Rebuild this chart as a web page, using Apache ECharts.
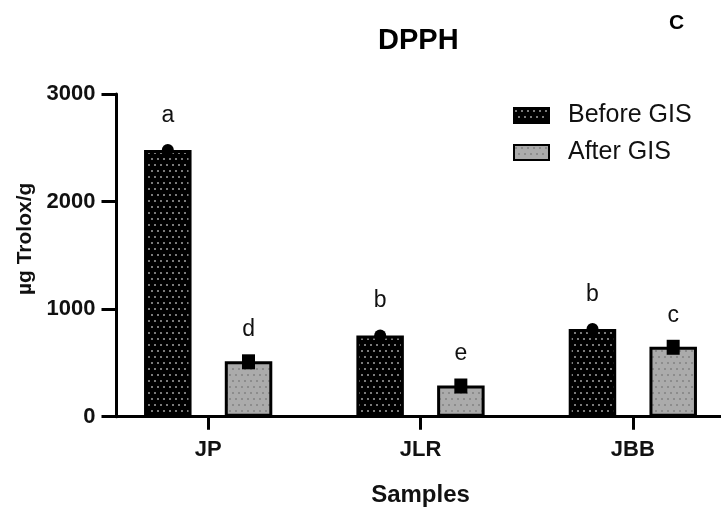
<!DOCTYPE html>
<html lang="en">

<head>
    <meta charset="UTF-8">
    <title>DPPH</title>
    <script src="https://cdn.jsdelivr.net/npm/echarts@6/dist/echarts.min.js"></script>
    <style>
        html, body {
            margin: 0;
            padding: 0;
            background: #fff;
        }
        #main {
            width: 721px;
            height: 518px;
        }
    </style>
</head>

<body>
    <div id="main"></div>
    <script>
        // data
        var categories = ['JP', 'JLR', 'JBB'];
        var beforeGIS = [2480, 755, 815];
        var afterGIS = [515, 290, 650];
        var beforeLetters = ['a', 'b', 'b'];
        var afterLetters = ['d', 'e', 'c'];
        var yMin = 0, yMax = 3000, yStep = 1000;

        var FONT = 'Liberation Sans, Arial, sans-serif';

        // dotted fill like the GraphPad bars
        function dots(bg, dot) {
            var c = document.createElement('canvas');
            c.width = 6;
            c.height = 12;
            var ctx = c.getContext('2d');
            ctx.fillStyle = bg;
            ctx.fillRect(0, 0, 6, 12);
            ctx.fillStyle = dot;
            ctx.fillRect(1, 2, 2, 2);
            ctx.fillRect(4, 8, 2, 2);
            return { image: c, repeat: 'repeat' };
        }

        var darkFill = dots('#000', '#7a7a7a');
        var greyFill = dots('#ababab', '#8c8c8c');

        // marker on top of each bar (circle / square), shifted to the bar centre
        function markerSeries(name, values, shape, shift) {
            return {
                type: 'custom',
                name: name + ' mk',
                xAxisIndex: 1,
                yAxisIndex: 1,
                z: 5,
                silent: true,
                data: values.map(function (v, i) { return [i, v]; }),
                renderItem: function (params, api) {
                    var p = api.coord([api.value(0), api.value(1)]);
                    var band = api.size([1, 0])[0];
                    var x = p[0] + shift * band;
                    if (shape === 'circle') {
                        return {
                            type: 'circle',
                            shape: { cx: x, cy: p[1], r: 6 },
                            style: { fill: '#000' }
                        };
                    }
                    return {
                        type: 'rect',
                        shape: { x: x - 6.5, y: p[1] - 7, width: 13, height: 15 },
                        style: { fill: '#000' }
                    };
                }
            };
        }

        function letterData(values, letters) {
            return values.map(function (v, i) {
                return { value: v, label: { formatter: letters[i] } };
            });
        }

        var myChart = echarts.init(document.getElementById('main'));

        var option = {
            animation: false,
            textStyle: { fontFamily: FONT },
            title: [
                {
                    text: 'DPPH',
                    left: 378,
                    top: 26,
                    padding: 0,
                    textStyle: { fontFamily: FONT, fontSize: 29, fontWeight: 'bold', color: '#000' }
                },
                {
                    text: 'C',
                    left: 669,
                    top: 13,
                    padding: 0,
                    textStyle: { fontFamily: FONT, fontSize: 21, fontWeight: 'bold', color: '#000' }
                }
            ],
            legend: {
                data: ['Before GIS', 'After GIS'],
                orient: 'vertical',
                left: 513,
                top: 103,
                padding: 0,
                itemWidth: 35,
                itemHeight: 15,
                itemGap: 12,
                selectedMode: false,
                icon: 'rect',
                textStyle: {
                    fontFamily: FONT,
                    fontSize: 25,
                    color: '#111',
                    padding: [0, 0, 0, 14]
                }
            },
            grid: [
                { left: 116.5, right: 0, top: 94, bottom: 101.3, outerBoundsMode: 'none' },
                { left: 102, right: -18, top: 94, bottom: 101.3, outerBoundsMode: 'none' }
            ],
            xAxis: [
                {
                    // only draws the baseline from the y axis to the edge
                    type: 'value',
                    gridIndex: 0,
                    min: 0,
                    max: 1,
                    axisLine: { show: true, lineStyle: { color: '#000', width: 3 } },
                    axisTick: { show: false },
                    axisLabel: { show: false },
                    splitLine: { show: false }
                },
                {
                    type: 'category',
                    gridIndex: 1,
                    data: categories,
                    axisLine: { show: false },
                    axisTick: {
                        show: true,
                        alignWithLabel: true,
                        length: 13,
                        lineStyle: { color: '#000', width: 3 }
                    },
                    axisLabel: {
                        margin: 22,
                        fontFamily: FONT,
                        fontSize: 22,
                        fontWeight: 'bold',
                        color: '#111'
                    },
                    name: 'Samples',
                    nameLocation: 'middle',
                    nameGap: 67,
                    nameTextStyle: {
                        fontFamily: FONT,
                        fontSize: 24,
                        fontWeight: 'bold',
                        color: '#111'
                    }
                }
            ],
            yAxis: [
                {
                    type: 'value',
                    gridIndex: 0,
                    min: yMin,
                    max: yMax,
                    interval: yStep,
                    axisLine: { show: true, lineStyle: { color: '#000', width: 3 } },
                    axisTick: { show: true, length: 15, lineStyle: { color: '#000', width: 3 } },
                    axisLabel: {
                        margin: 21,
                        fontFamily: FONT,
                        fontSize: 22,
                        fontWeight: 'bold',
                        color: '#111',
                        formatter: function (v) { return String(v); }
                    },
                    splitLine: { show: false },
                    name: 'µg Trolox/g',
                    nameLocation: 'middle',
                    nameGap: 76,
                    nameTextStyle: {
                        fontFamily: FONT,
                        fontSize: 21,
                        fontWeight: 'bold',
                        color: '#111',
                        padding: [0, 0, 0, 33]
                    }
                },
                {
                    type: 'value',
                    gridIndex: 1,
                    min: yMin,
                    max: yMax,
                    interval: yStep,
                    show: false,
                    splitLine: { show: false }
                }
            ],
            series: [
                {
                    name: 'Before GIS',
                    type: 'bar',
                    xAxisIndex: 1,
                    yAxisIndex: 1,
                    barWidth: 47.5,
                    barGap: '70%',
                    itemStyle: { color: darkFill, borderColor: '#000', borderWidth: 3 },
                    label: {
                        show: true,
                        position: 'top',
                        distance: 23,
                        fontFamily: FONT,
                        fontSize: 23,
                        color: '#111'
                    },
                    data: letterData(beforeGIS, beforeLetters)
                },
                {
                    name: 'After GIS',
                    type: 'bar',
                    xAxisIndex: 1,
                    yAxisIndex: 1,
                    barWidth: 47.5,
                    barGap: '70%',
                    itemStyle: { color: greyFill, borderColor: '#000', borderWidth: 3 },
                    label: {
                        show: true,
                        position: 'top',
                        distance: 20,
                        fontFamily: FONT,
                        fontSize: 23,
                        color: '#111'
                    },
                    data: letterData(afterGIS, afterLetters)
                },
                markerSeries('Before GIS', beforeGIS, 'circle', -0.19),
                markerSeries('After GIS', afterGIS, 'square', 0.19)
            ]
        };

        myChart.setOption(option);
    </script>
</body>

</html>
